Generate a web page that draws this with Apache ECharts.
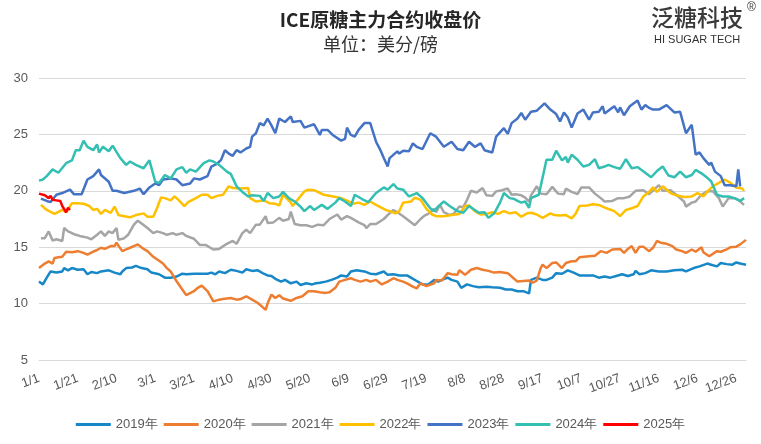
<!DOCTYPE html>
<html><head><meta charset="utf-8">
<script src="https://cdn.jsdelivr.net/npm/echarts@6/dist/echarts.min.js"></script>
<style>html,body{margin:0;padding:0;background:#fff}#c{width:761px;height:444px}</style>
</head><body><div id="c"></div>
<script>
const tickLabels = ['1/1','1/21','2/10','3/1','3/21','4/10','4/30','5/20','6/9','6/29','7/19','8/8','8/28','9/17','10/7','10/27','11/16','12/6','12/26'];
const yearNames = ['2019年','2020年','2021年','2022年','2023年','2024年','2025年'];
const yearColors = ['#1787c7','#ed7d31','#a5a5a5','#ffc000','#4472c4','#33bfb2','#ff0000'];

const s2019 = [[0,11.95],[2,11.7],[4,12.3],[6,12.85],[9,12.75],[12,12.85],[13,13.15],[15,12.95],[17,13.15],[20,13.0],[23,13.05],[25,12.6],[27,12.8],[30,12.7],[32,12.85],[36,12.95],[39,12.75],[42,12.6],[43,12.85],[45,13.15],[48,13.2],[50,13.35],[53,13.15],[56,13.05],[58,12.75],[62,12.6],[65,12.3],[68,12.3],[71,12.4],[74,12.65],[76,12.6],[80,12.65],[83,12.65],[87,12.65],[89,12.75],[91,12.6],[93,12.85],[96,12.7],[99,13.0],[102,12.9],[105,12.75],[107,13.05],[110,12.9],[113,12.95],[116,12.65],[118,12.5],[120,12.45],[122,12.2],[125,11.95],[127,12.1],[130,11.8],[133,11.95],[135,11.65],[138,11.8],[141,11.7],[143,11.8],[145,11.85],[148,11.95],[151,12.1],[154,12.3],[156,12.5],[159,12.4],[161,12.85],[164,12.95],[168,12.85],[171,12.65],[174,12.6],[178,12.85],[180,12.55],[183,12.6],[186,12.5],[190,12.5],[192,12.3],[195,12.0],[198,11.7],[201,11.7],[204,12.1],[206,11.95],[208,12.1],[211,12.3],[213,12.1],[216,11.95],[218,11.4],[221,11.7],[224,11.55],[227,11.45],[231,11.5],[234,11.45],[238,11.4],[241,11.25],[244,11.25],[247,11.1],[250,11.1],[253,10.9],[254,12.1],[257,12.3],[260,12.1],[262,12.1],[265,12.3],[267,12.7],[270,12.65],[273,12.95],[276,12.75],[279,12.5],[283,12.5],[286,12.5],[289,12.3],[292,12.4],[295,12.3],[298,12.45],[301,12.6],[304,12.45],[307,12.6],[308,12.9],[310,12.6],[313,12.7],[316,12.95],[320,12.85],[324,12.85],[328,12.95],[332,13.0],[334,12.85],[338,13.15],[341,13.3],[345,13.55],[347,13.45],[350,13.3],[352,13.6],[355,13.5],[358,13.45],[360,13.65],[362,13.55],[365,13.45]];

const s2020 = [[0,13.15],[3,13.55],[5,13.75],[7,13.55],[8,14.05],[10,14.1],[12,14.15],[14,14.6],[17,14.55],[20,14.65],[23,14.5],[25,14.35],[28,14.6],[30,14.75],[32,14.95],[34,14.85],[37,15.1],[39,15.1],[40,15.4],[41,15.45],[43,14.65],[45,14.8],[47,14.95],[49,15.1],[51,15.25],[54,14.85],[56,14.65],[59,14.15],[62,13.8],[64,13.55],[66,13.15],[68,12.85],[70,12.25],[73,11.5],[76,10.75],[80,11.1],[82,11.4],[84,11.6],[87,11.1],[90,10.2],[93,10.35],[95,10.4],[99,10.5],[102,10.35],[104,10.4],[107,10.65],[110,10.35],[113,10.05],[115,9.75],[117,9.45],[118,10.0],[120,10.8],[122,10.5],[124,10.75],[126,10.45],[130,10.25],[133,10.5],[136,10.65],[139,11.1],[142,11.1],[145,11.0],[148,10.95],[150,11.0],[153,11.4],[155,11.95],[158,12.1],[161,12.25],[163,12.1],[166,11.95],[169,12.1],[171,11.95],[174,12.1],[177,11.7],[180,11.95],[183,12.25],[185,12.1],[188,11.95],[190,11.8],[193,11.5],[195,11.35],[197,11.8],[200,11.55],[204,11.8],[205,12.1],[208,12.05],[211,12.7],[213,12.6],[216,12.55],[217,12.95],[220,12.55],[223,13.0],[226,13.15],[229,13.0],[232,12.9],[235,12.75],[238,12.8],[242,12.7],[245,12.25],[247,11.95],[250,12.0],[253,12.05],[255,11.85],[257,12.05],[259,13.15],[260,13.45],[262,13.15],[265,13.6],[267,13.65],[270,13.15],[272,13.6],[275,13.75],[277,13.75],[279,14.1],[284,14.2],[287,14.25],[290,14.65],[293,14.5],[296,14.8],[300,14.85],[302,14.5],[304,14.85],[306,15.1],[308,14.5],[310,15.05],[312,15.05],[315,14.65],[317,14.95],[319,15.55],[321,15.4],[324,15.3],[327,15.1],[329,14.8],[332,14.65],[334,14.5],[337,14.8],[339,14.6],[342,15.0],[343,14.55],[346,14.2],[350,14.65],[352,14.6],[355,14.8],[357,15.0],[360,15.05],[362,15.25],[365,15.65]];

const s2021 = [[1,15.8],[3,15.8],[5,16.4],[7,15.6],[9,15.7],[12,15.55],[13,16.7],[15,16.4],[17,16.25],[19,16.1],[21,16.0],[25,15.85],[27,15.7],[30,16.1],[32,16.4],[34,16.0],[36,16.4],[38,16.25],[40,16.7],[41,15.65],[44,15.8],[46,16.1],[49,17.0],[51,17.35],[53,17.1],[56,16.7],[59,16.25],[61,16.4],[64,16.25],[66,16.1],[69,16.25],[71,16.1],[74,16.25],[76,16.0],[80,15.75],[81,15.6],[83,15.2],[86,15.2],[90,14.8],[93,14.85],[97,15.3],[100,15.55],[102,15.3],[105,16.25],[107,16.55],[109,16.25],[112,17.0],[114,17.0],[117,17.75],[118,17.15],[121,17.2],[124,17.6],[126,17.35],[129,17.5],[130,18.15],[132,17.05],[135,16.95],[138,16.95],[141,16.8],[144,17.0],[147,16.95],[150,17.5],[154,17.9],[156,17.45],[159,17.75],[161,17.6],[165,17.2],[168,16.95],[169,16.7],[171,17.05],[174,17.05],[178,17.5],[180,17.85],[183,18.3],[185,18.1],[188,17.75],[191,17.35],[194,16.95],[197,17.5],[199,17.8],[201,17.95],[204,18.4],[205,18.1],[207,18.75],[209,18.1],[212,17.85],[214,17.95],[217,18.6],[219,18.55],[221,19.2],[223,20.0],[226,19.85],[229,20.25],[231,19.6],[234,19.55],[236,19.95],[239,20.05],[242,20.2],[244,19.65],[246,19.7],[249,19.6],[251,19.4],[253,19.05],[254,19.6],[257,20.4],[259,19.75],[262,19.7],[265,20.35],[268,19.75],[271,19.7],[272,20.2],[275,19.9],[278,19.7],[280,20.3],[284,20.3],[287,19.75],[290,19.35],[292,19.05],[296,19.1],[299,19.35],[302,19.35],[305,19.5],[308,20.0],[312,20.05],[315,19.7],[320,20.5],[322,20.0],[326,20.05],[329,19.65],[333,19.05],[334,18.6],[337,18.95],[339,19.05],[342,19.65],[345,19.95],[348,19.95],[351,19.35],[353,18.6],[356,19.35],[359,19.35],[361,19.2],[364,18.75]];

const s2022 = [[1,18.75],[4,18.3],[8,17.95],[12,18.3],[14,18.1],[17,18.9],[20,18.9],[23,18.85],[26,18.65],[28,18.3],[30,18.4],[32,17.95],[34,18.3],[37,18.05],[39,18.6],[41,17.85],[44,17.75],[47,17.65],[50,17.85],[54,18.0],[56,17.7],[59,17.7],[61,18.5],[63,19.4],[65,19.35],[68,19.15],[70,19.5],[72,19.2],[75,18.65],[77,19.0],[81,19.35],[84,19.65],[87,19.65],[89,19.35],[92,19.55],[95,19.65],[98,20.4],[100,20.25],[104,20.2],[108,20.25],[109,19.35],[112,19.05],[116,19.15],[119,18.9],[122,18.85],[124,18.7],[126,19.65],[130,18.95],[131,18.65],[133,19.1],[137,19.95],[139,20.1],[142,20.05],[147,19.65],[152,19.5],[156,19.35],[160,19.05],[162,18.85],[165,18.95],[168,18.75],[171,19.05],[174,18.75],[179,18.3],[181,18.2],[184,18.0],[186,18.2],[188,18.95],[192,19.05],[194,19.4],[197,19.2],[200,18.4],[203,17.9],[205,17.75],[209,17.75],[213,17.85],[217,17.95],[220,18.65],[222,18.7],[225,18.2],[228,17.9],[231,17.95],[234,18.1],[237,17.95],[240,18.2],[243,18.0],[246,18.1],[249,17.7],[252,18.0],[254,18.05],[257,17.9],[260,17.6],[261,17.45],[264,18.0],[266,17.85],[269,17.8],[272,17.85],[275,17.55],[277,17.95],[279,18.65],[283,18.7],[286,18.8],[289,18.75],[293,18.45],[297,18.2],[300,17.75],[303,18.3],[306,18.45],[309,18.65],[312,19.5],[315,19.9],[317,20.3],[319,19.9],[322,20.4],[326,19.8],[329,19.6],[333,19.45],[337,19.5],[340,19.8],[343,19.5],[346,20.1],[348,20.4],[351,20.7],[354,21.0],[357,20.7],[360,20.3],[363,20.2],[364,20.0]];

const s2023 = [[1,19.3],[4,19.1],[6,19.0],[9,19.65],[12,19.8],[16,20.1],[18,19.7],[22,19.7],[25,21.0],[28,21.3],[31,21.9],[32,21.4],[36,20.8],[38,20.0],[40,20.0],[44,19.8],[49,20.0],[52,20.2],[54,19.7],[57,20.3],[60,20.65],[62,20.5],[64,21.0],[68,21.1],[71,21.0],[74,20.5],[78,20.65],[80,21.1],[83,21.0],[87,21.3],[89,22.15],[92,22.4],[94,22.75],[96,23.6],[98,23.3],[100,23.1],[102,23.6],[104,23.4],[107,23.75],[109,23.9],[110,24.8],[112,25.1],[114,26.0],[116,25.8],[118,26.4],[120,25.8],[122,25.1],[124,26.4],[127,26.1],[130,26.6],[131,26.1],[135,26.2],[137,25.6],[142,25.9],[145,24.95],[146,25.4],[149,25.4],[152,24.9],[156,24.45],[158,24.6],[159,25.6],[161,24.95],[163,24.8],[165,25.4],[168,26.0],[171,26.0],[174,24.35],[176,23.7],[178,22.9],[180,22.15],[181,22.9],[185,23.5],[186,23.3],[188,23.55],[191,23.5],[193,24.2],[195,23.9],[198,23.7],[202,25.1],[205,24.8],[209,23.9],[213,24.35],[216,23.7],[219,23.6],[222,24.35],[225,23.9],[228,24.2],[230,23.6],[234,23.4],[236,24.8],[240,25.55],[242,25.05],[244,26.0],[247,26.4],[249,26.9],[251,26.3],[254,27.0],[257,27.1],[261,27.75],[264,27.2],[267,26.8],[269,26.15],[271,26.95],[273,26.5],[275,25.6],[278,26.85],[281,27.2],[284,26.3],[286,26.95],[289,27.0],[291,27.5],[292,26.85],[297,27.5],[299,26.95],[300,27.4],[302,26.7],[305,27.5],[309,28.0],[311,27.2],[313,27.6],[315,27.35],[317,27.2],[320,27.2],[324,27.6],[328,26.95],[331,27.0],[334,25.1],[337,25.85],[339,23.2],[341,23.4],[343,22.9],[346,22.3],[347,22.5],[349,21.7],[352,21.3],[354,20.5],[357,20.5],[360,20.4],[361,21.9],[362,20.4]];

const s2024 = [[0,20.9],[2,21.0],[4,21.3],[7,21.9],[10,21.6],[14,22.45],[17,22.7],[19,23.6],[21,23.6],[23,24.45],[25,23.9],[28,23.6],[30,24.1],[31,23.4],[33,23.9],[36,23.5],[38,24.0],[42,22.9],[43,22.7],[45,22.3],[47,22.6],[50,22.3],[54,22.0],[57,22.7],[60,20.8],[62,20.7],[65,21.4],[68,21.1],[71,21.9],[74,22.1],[76,21.6],[78,21.9],[81,21.7],[85,22.45],[88,22.7],[90,22.6],[93,22.3],[97,21.7],[99,21.5],[102,20.4],[105,19.9],[108,19.5],[110,19.6],[114,19.55],[116,19.1],[118,19.8],[121,19.35],[124,19.5],[126,19.9],[129,19.35],[132,19.05],[135,18.6],[137,18.2],[140,18.65],[142,18.3],[146,18.75],[149,18.4],[153,18.95],[155,19.35],[158,19.05],[161,18.65],[163,19.65],[167,19.25],[170,19.0],[174,19.8],[178,20.3],[180,20.1],[183,20.6],[185,20.2],[188,20.1],[191,19.5],[195,19.8],[198,19.35],[202,18.45],[204,18.2],[206,18.6],[209,19.05],[212,18.65],[216,18.2],[219,18.05],[222,18.65],[225,18.3],[227,18.05],[230,18.1],[232,17.6],[235,18.0],[238,18.95],[240,19.8],[243,19.35],[245,19.3],[247,19.1],[249,18.95],[251,19.05],[253,18.5],[254,19.35],[258,19.65],[259,20.4],[262,22.75],[265,22.75],[267,23.55],[270,22.7],[272,23.0],[273,22.5],[275,23.2],[278,22.75],[281,22.15],[284,22.3],[287,22.8],[289,22.0],[292,22.15],[294,22.3],[297,22.1],[300,21.95],[303,22.8],[306,22.0],[309,22.1],[313,21.6],[316,21.2],[319,21.75],[322,22.15],[325,21.35],[328,21.2],[331,21.7],[334,21.2],[337,21.4],[339,21.85],[342,21.55],[345,21.15],[347,20.85],[350,19.65],[353,19.5],[356,19.5],[359,19.35],[362,19.1],[364,19.35]];

const s2025 = [[0,19.75],[3,19.6],[5,19.35],[6,19.55],[7,19.2],[9,19.15],[11,19.1],[12,18.65],[14,18.1],[15,18.5],[16,18.3]];

const seriesData = [s2019, s2020, s2021, s2022, s2023, s2024, s2025];

const chart = echarts.init(document.getElementById('c'));
const labelColor = '#595959';
chart.setOption({
  animation: false,
  backgroundColor: '#ffffff',
  title: [
    { text: 'ICE原糖主力合约收盘价', left: 'center', top: 5,
      textStyle: { fontFamily: 'Noto Sans CJK SC', fontSize: 19, fontWeight: 'bold', color: '#262626' } },
    { text: '单位：美分/磅', left: 'center', top: 30,
      textStyle: { fontFamily: 'Noto Sans CJK SC', fontSize: 18, fontWeight: 'normal', color: '#333333' } }
  ],
  graphic: [
    { type: 'text', left: 651, top: 6, style: { text: '泛糖科技', font: '500 23px "Noto Sans CJK SC"', fill: '#3a3a3a' } },
    { type: 'text', left: 747, top: 2, style: { text: '®', font: '12px "Liberation Sans"', fill: '#3a3a3a' } },
    { type: 'text', left: 654, top: 34, style: { text: 'HI SUGAR TECH', font: '11px "Liberation Sans"', fill: '#333333' } }
  ],
  grid: { left: 39, right: 15, top: 78, bottom: 84, containLabel: false },
  legend: {
    bottom: 8, left: 'center', itemWidth: 35, itemHeight: 3, itemGap: 6, icon: 'rect',
    textStyle: { color: labelColor, fontSize: 13, fontFamily: 'Liberation Sans' },
    data: yearNames
  },
  xAxis: {
    type: 'value', min: 0, max: 365, interval: 20,
    axisLine: { show: true, lineStyle: { color: '#d9d9d9' } },
    axisTick: { show: false },
    splitLine: { show: false },
    axisLabel: {
      rotate: 20, margin: 18, color: labelColor, fontSize: 13, fontFamily: 'Liberation Sans',
      showMaxLabel: false,
      formatter: function (v) { const i = v / 20; return Number.isInteger(i) && tickLabels[i] ? tickLabels[i] : ''; }
    }
  },
  yAxis: {
    type: 'value', min: 5, max: 30, interval: 5,
    axisLine: { show: false }, axisTick: { show: false },
    splitLine: { lineStyle: { color: '#d9d9d9', width: 1 } },
    axisLabel: { color: labelColor, fontSize: 13, margin: 11, fontFamily: 'Liberation Sans' }
  },
  series: seriesData.map((d, i) => ({
    name: yearNames[i], type: 'line', data: d, showSymbol: false, symbol: 'none',
    lineStyle: { width: 2.5, color: yearColors[i] }, itemStyle: { color: yearColors[i] },
    z: 2 + i
  }))
});
</script>
</body></html>
